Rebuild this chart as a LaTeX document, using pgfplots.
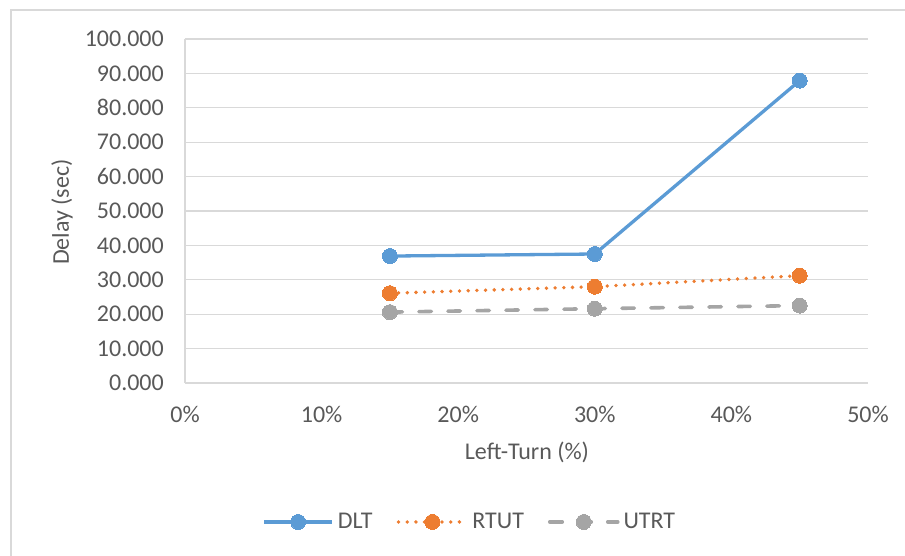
\documentclass[border=0pt]{standalone}
\usepackage{pgfplots}
\pgfplotsset{compat=1.18}
\usepackage{fontspec}
\setmainfont{Carlito}
\definecolor{cblue}{HTML}{5B9BD5}
\definecolor{corange}{HTML}{ED7D31}
\definecolor{cgray}{HTML}{A5A5A5}
\definecolor{gridc}{HTML}{D9D9D9}
\definecolor{txt}{HTML}{595959}
\begin{document}
\begin{tikzpicture}[font=\fontsize{24}{28}\selectfont]
\path[use as bounding box] (0pt,0pt) rectangle (905pt,556pt);
\draw[gridc, line width=1.5pt] (11pt,-5pt) -- (11pt,546pt) -- (910pt,546pt);
\begin{axis}[
  at={(185pt,173pt)}, anchor=south west,
  scale only axis, width=683pt, height=344pt,
  xmin=0, xmax=0.5, ymin=0, ymax=100,
  xtick={0,0.1,0.2,0.3,0.4,0.5},
  xticklabels={0\%,10\%,20\%,30\%,40\%,50\%},
  ytick={0,10,...,100},
  axis lines=left,
  axis line style={-, draw=gridc, line width=1.3pt},
  major tick length=0pt,
  xmajorgrids=false, ymajorgrids=true,
  grid style={draw=gridc, line width=1.3pt},
  /pgf/number format/assume math mode=true,
  yticklabel={\pgfmathprintnumber[fixed,fixed zerofill,precision=3,1000 sep={}]{\tick}},
  yticklabel style={anchor=east, inner sep=0pt, xshift=-21pt, text=txt},
  xticklabel style={anchor=base, inner sep=0pt, yshift=-39.5pt, text=txt},
  xlabel={Left-Turn (\%)}, ylabel={Delay (sec)},
  xlabel style={at={(axis description cs:0.5007,-0.2006)}, anchor=center, text=txt, inner sep=0pt},
  ylabel style={at={(axis description cs:-0.180,0.497)}, anchor=center, text=txt, inner sep=0pt},
  legend style={at={(axis description cs:0.417,-0.404)}, anchor=center, draw=none, fill=none, text=txt,
    /tikz/every even column/.append style={column sep=22pt},
    /tikz/every odd column/.append style={column sep=2pt}},
  legend columns=3,
  legend image code/.code={\draw[mark repeat=2,mark phase=2,#1] plot coordinates {(0pt,0pt) (34pt,0pt) (68pt,0pt)};},
  clip=false,
]
\addplot[cblue, line width=3.3pt, mark=*, mark size=7.5pt, mark options={solid, fill=cblue, line width=0pt}]
  coordinates {(0.15,36.9) (0.30,37.5) (0.45,87.9)};
\addlegendentry{DLT}
\addplot[corange, line width=3.8pt, line cap=round, dash pattern=on 0pt off 8.7pt, mark=*, mark size=7.5pt, mark options={solid, fill=corange, line width=0pt}]
  coordinates {(0.15,26.1) (0.30,28.0) (0.45,31.2)};
\addlegendentry{RTUT}
\addplot[cgray, line width=3.6pt, line cap=round, dash pattern=on 12.5pt off 16.5pt, mark=*, mark size=7.5pt, mark options={solid, fill=cgray, line width=0pt}]
  coordinates {(0.15,20.6) (0.30,21.6) (0.45,22.5)};
\addlegendentry{UTRT}
\end{axis}
\end{tikzpicture}
\end{document}
